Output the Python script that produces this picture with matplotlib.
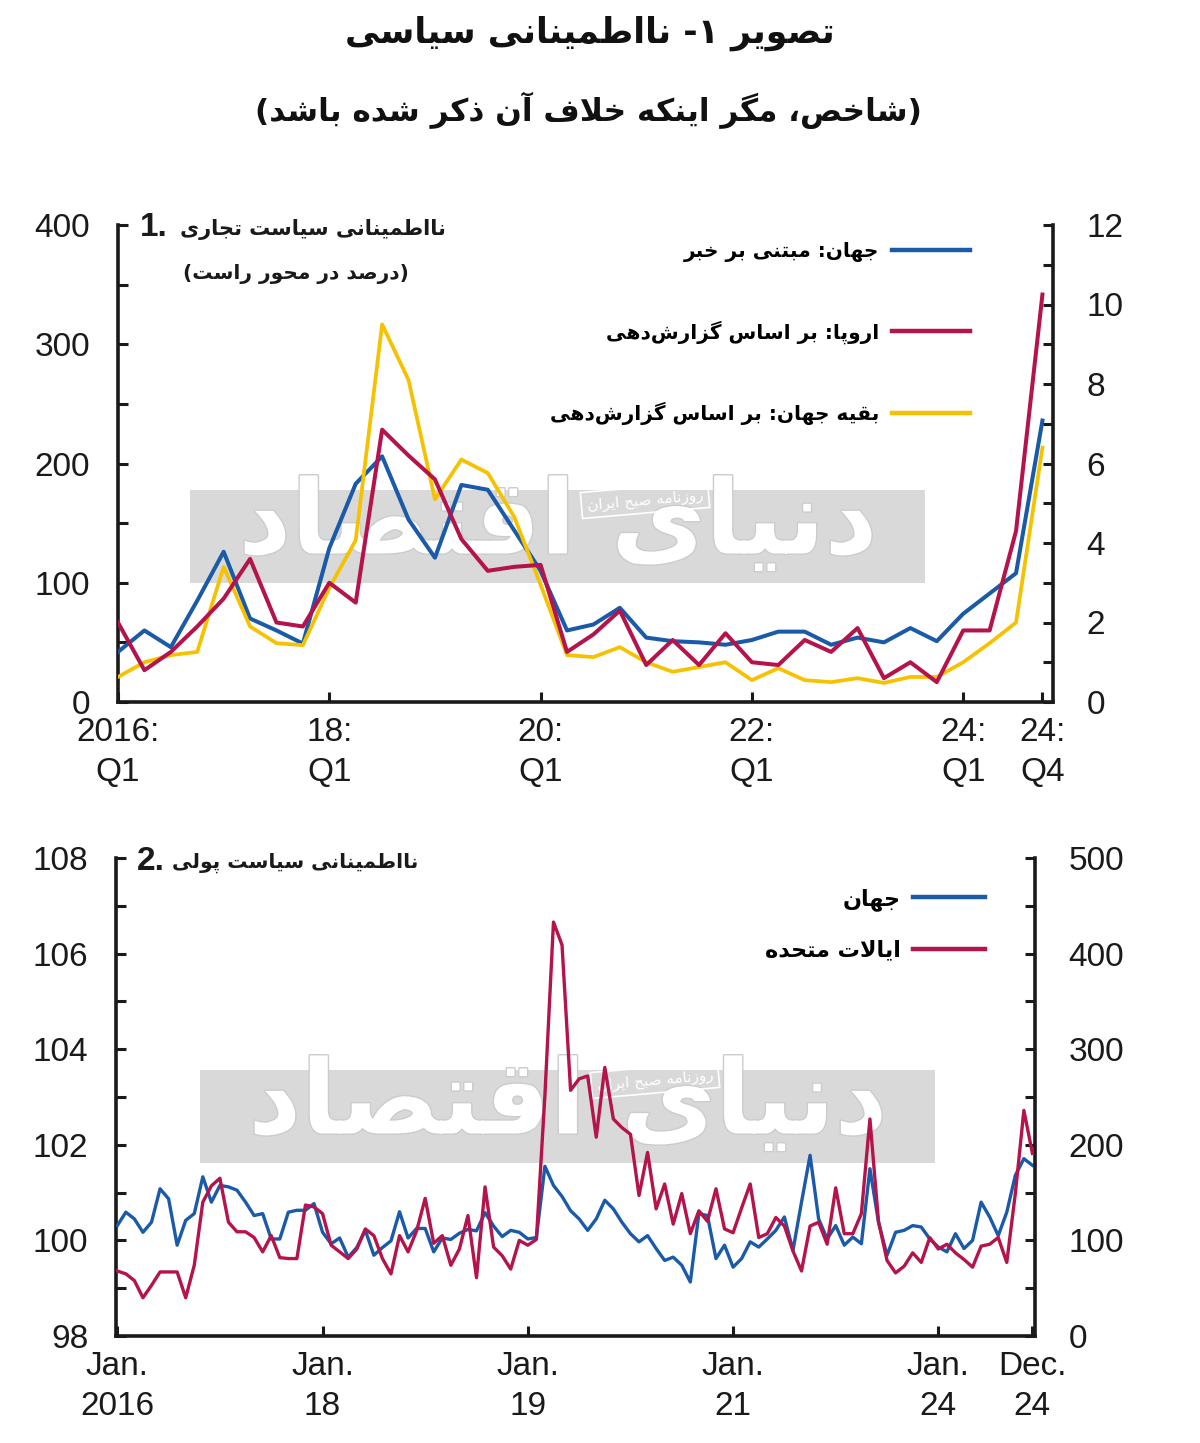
import matplotlib
matplotlib.use('Agg')
import matplotlib.pyplot as plt
from matplotlib import font_manager
from matplotlib.ticker import MultipleLocator, FixedLocator, FixedFormatter
from matplotlib.patches import Rectangle
from matplotlib.lines import Line2D
import matplotlib.patheffects as pe
import numpy as np

# ---------------- data ----------------
# Panel 1: quarterly 2016Q1 .. 2024Q4
trade_quarter_ticks = [0, 8, 16, 24, 32, 35]
trade_tick_labels = ["2016:\nQ1", "18:\nQ1", "20:\nQ1", "22:\nQ1", "24:\nQ1", "24:\nQ4"]
world_news = [42, 60, 46, 85, 126, 70, 60, 49, 129, 183, 206, 153, 121, 182, 178, 144,
              110, 60, 65, 79, 54, 51, 50, 48, 52, 59, 59, 48, 54, 50, 62, 51,
              74, 91, 108, 236]
europe_reporting = [2.0, 0.8, 1.26, 1.9, 2.6, 3.6, 2.0, 1.9, 3.0, 2.5, 6.85, 6.2, 5.6, 4.1, 3.3, 3.4,
                    3.45, 1.26, 1.7, 2.3, 0.93, 1.56, 0.93, 1.73, 1.0, 0.93, 1.56, 1.26, 1.86, 0.6, 1.0, 0.5,
                    1.8, 1.8, 4.3, 10.25]
row_reporting = [0.63, 1.0, 1.18, 1.26, 3.4, 1.9, 1.48, 1.43, 2.87, 4.07, 9.5, 8.1, 5.1, 6.1, 5.76, 4.66,
                 2.95, 1.18, 1.13, 1.38, 1.0, 0.76, 0.88, 1.0, 0.55, 0.85, 0.55, 0.5, 0.6, 0.48, 0.63, 0.63,
                 1.0, 1.48, 2.0, 6.4]

# Panel 2: monthly Jan 2016 .. Dec 2024
mp_month_ticks = [0, 24, 48, 72, 96, 107]
mp_tick_labels = ["Jan.\n2016", "Jan.\n18", "Jan.\n19", "Jan.\n21", "Jan.\n24", "Dec.\n24"]
world_mpu = [100.31, 100.59, 100.45, 100.17, 100.38, 101.08, 100.87, 99.90, 100.42, 100.56, 101.33, 100.80,
             101.15, 101.12, 101.05, 100.80, 100.52, 100.56, 100.03, 100.03, 100.59, 100.63, 100.63, 100.77,
             100.17, 99.93, 100.05, 99.65, 99.85, 100.21, 99.69, 99.85, 99.99, 100.60, 100.05, 100.25,
             100.25, 99.76, 100.05, 100.02, 100.15, 100.23, 100.20, 100.58, 100.30, 100.08, 100.21, 100.17,
             100.03, 100.06, 101.55, 101.15, 100.92, 100.62, 100.45, 100.21, 100.45, 100.84, 100.66, 100.38,
             100.14, 99.97, 100.10, 99.83, 99.58, 99.65, 99.48, 99.13, 100.56, 100.52, 99.62, 99.90,
             99.44, 99.62, 99.97, 99.86, 100.03, 100.21, 100.49, 99.79, 100.80, 101.78, 100.45, 100.03,
             100.31, 99.90, 100.07, 99.93, 101.50, 100.38, 99.69, 100.17, 100.21, 100.31, 100.28, 100.03,
             99.86, 99.76, 100.14, 99.83, 100.00, 100.80, 100.49, 100.10, 100.59, 101.36, 101.71, 101.57]
us_mpu = [68, 65, 58, 40, 53, 67, 67, 67, 40, 74, 140, 157,
          165, 119, 109, 109, 103, 88, 105, 82, 81, 81, 137, 135,
          128, 95, 88, 81, 91, 112, 105, 81, 65, 105, 88, 110,
          144, 97, 105, 74, 91, 126, 61, 156, 93, 84, 70, 100,
          95, 101, 252, 433, 409, 257, 269, 272, 208, 281, 227, 218,
          211, 147, 192, 133, 159, 117, 149, 107, 131, 120, 154, 112,
          108, 134, 159, 103, 107, 124, 115, 89, 68, 115, 119, 96,
          155, 107, 107, 128, 227, 120, 79, 66, 73, 87, 77, 103,
          91, 96, 87, 80, 72, 94, 96, 103, 77, 149, 236, 191]

# ---------------- texts ----------------
title_text = "تصویر ۱- نااطمینانی سیاسی"
subtitle_text = "(شاخص، مگر اینکه خلاف آن ذکر شده باشد)"
p1_title = "نااطمینانی سیاست تجاری"
p1_sub = "(درصد در محور راست)"
p1_labels = ["جهان: مبتنی بر خبر", "اروپا: بر اساس گزارش\u200cدهی", "بقیه جهان: بر اساس گزارش\u200cدهی"]
p2_title = "نااطمینانی سیاست پولی"
p2_labels = ["جهان", "ایالات متحده"]
wm_big = "دنیای اقتصاد"
wm_small = "روزنامه صبح ایران"

# ---------------- minimal Persian shaping ----------------
FORMS = {
    '\u0627': ('\uFE8D', '\uFE8E', None, None),
    '\u0622': ('\uFE81', '\uFE82', None, None),
    '\u0628': ('\uFE8F', '\uFE90', '\uFE91', '\uFE92'),
    '\u067E': ('\uFB56', '\uFB57', '\uFB58', '\uFB59'),
    '\u062A': ('\uFE95', '\uFE96', '\uFE97', '\uFE98'),
    '\u062C': ('\uFE9D', '\uFE9E', '\uFE9F', '\uFEA0'),
    '\u062D': ('\uFEA1', '\uFEA2', '\uFEA3', '\uFEA4'),
    '\u062E': ('\uFEA5', '\uFEA6', '\uFEA7', '\uFEA8'),
    '\u062F': ('\uFEA9', '\uFEAA', None, None),
    '\u0630': ('\uFEAB', '\uFEAC', None, None),
    '\u0631': ('\uFEAD', '\uFEAE', None, None),
    '\u0632': ('\uFEAF', '\uFEB0', None, None),
    '\u0633': ('\uFEB1', '\uFEB2', '\uFEB3', '\uFEB4'),
    '\u0634': ('\uFEB5', '\uFEB6', '\uFEB7', '\uFEB8'),
    '\u0635': ('\uFEB9', '\uFEBA', '\uFEBB', '\uFEBC'),
    '\u0637': ('\uFEC1', '\uFEC2', '\uFEC3', '\uFEC4'),
    '\u0641': ('\uFED1', '\uFED2', '\uFED3', '\uFED4'),
    '\u0642': ('\uFED5', '\uFED6', '\uFED7', '\uFED8'),
    '\u06A9': ('\uFB8E', '\uFB8F', '\uFB90', '\uFB91'),
    '\u06AF': ('\uFB92', '\uFB93', '\uFB94', '\uFB95'),
    '\u0644': ('\uFEDD', '\uFEDE', '\uFEDF', '\uFEE0'),
    '\u0645': ('\uFEE1', '\uFEE2', '\uFEE3', '\uFEE4'),
    '\u0646': ('\uFEE5', '\uFEE6', '\uFEE7', '\uFEE8'),
    '\u0648': ('\uFEED', '\uFEEE', None, None),
    '\u0647': ('\uFEE9', '\uFEEA', '\uFEEB', '\uFEEC'),
    '\u06CC': ('\uFBFC', '\uFBFD', '\uFBFE', '\uFBFF'),
    '\u064A': ('\uFEF1', '\uFEF2', '\uFEF3', '\uFEF4'),
}
LAMALEF = {'\u0627': ('\uFEFB', '\uFEFC'), '\u0622': ('\uFEF5', '\uFEF6')}


def _joins_next(c):
    return c in FORMS and FORMS[c][2] is not None


def rtl(s):
    ch = list(s)
    n = len(ch)
    res = []
    i = 0
    while i < n:
        c = ch[i]
        if c not in FORMS:
            if c != '\u200c':
                res.append(c)
            i += 1
            continue
        prev = ch[i - 1] if i > 0 else None
        jp = prev is not None and _joins_next(prev)
        if c == '\u0644' and i + 1 < n and ch[i + 1] in LAMALEF:
            lig = LAMALEF[ch[i + 1]]
            res.append(lig[1] if jp else lig[0])
            i += 2
            continue
        nxt = ch[i + 1] if i + 1 < n else None
        jn = _joins_next(c) and nxt is not None and nxt in FORMS
        iso, fin, ini, med = FORMS[c]
        if jp and jn:
            g = med
        elif jp:
            g = fin
        elif jn:
            g = ini
        else:
            g = iso
        res.append(g)
        i += 1
    mirror = {'(': ')', ')': '('}
    return ''.join(mirror.get(c, c) for c in reversed(res))


def pick_font(names):
    for n in names:
        try:
            font_manager.findfont(n, fallback_to_default=False)
            return n
        except Exception:
            pass
    return 'DejaVu Sans'


NUM = pick_font(['Liberation Sans Narrow', 'Liberation Sans', 'Arial'])
FA = ['DejaVu Sans']

BLUE = '#1b5aa8'
RED = '#b5134c'
YELLOW = '#f6c200'
GRAY = '#d9d9d9'
INK = '#1a1a1a'

W, H = 1200, 1443
fig = plt.figure(figsize=(W / 100, H / 100), dpi=100)
fig.patch.set_facecolor('white')


def fx(x):
    return x / W


def fy(y):
    return 1 - y / H


def style_axes(ax, ax2, xlim, yl, yr, xticks, xlabels, lmaj, lmin, rmaj, rmin):
    ax.set_xlim(*xlim)
    ax.set_ylim(*yl)
    ax2.set_ylim(*yr)
    for a in (ax, ax2):
        a.spines['top'].set_visible(False)
        a.patch.set_visible(False)
    ax.spines['right'].set_visible(False)
    ax2.spines['left'].set_visible(False)
    ax2.spines['bottom'].set_visible(False)
    for sp in ('left', 'bottom'):
        ax.spines[sp].set_linewidth(2.6)
        ax.spines[sp].set_color(INK)
    ax2.spines['right'].set_linewidth(2.6)
    ax2.spines['right'].set_color(INK)
    ax.yaxis.set_major_locator(MultipleLocator(lmaj))
    ax.yaxis.set_minor_locator(MultipleLocator(lmin))
    ax2.yaxis.set_major_locator(MultipleLocator(rmaj))
    ax2.yaxis.set_minor_locator(MultipleLocator(rmin))
    ax.yaxis.set_major_formatter('{x:.0f}')
    ax2.yaxis.set_major_formatter('{x:.0f}')
    ax.xaxis.set_major_locator(FixedLocator(xticks))
    ax.xaxis.set_major_formatter(FixedFormatter(xlabels))
    ax.tick_params(axis='y', which='both', direction='in', length=7, width=2.2, color=INK,
                   labelsize=24, pad=20)
    ax2.tick_params(axis='y', which='both', direction='in', length=7, width=2.2, color=INK,
                    labelsize=24, pad=24)
    ax.tick_params(axis='x', which='both', direction='in', length=7, width=2.2, color=INK,
                   labelsize=24, pad=11)
    for lab in ax.get_yticklabels() + ax2.get_yticklabels() + ax.get_xticklabels():
        lab.set_fontfamily(NUM)
        lab.set_color(INK)
    for lab in ax.get_xticklabels():
        lab.set_multialignment('center')
        lab.set_linespacing(1.35)


def watermark(ax, x0, y0, x1, y1, cx, cy, sx, sy):
    ax.add_patch(Rectangle((fx(x0), fy(y1)), fx(x1) - fx(x0), fy(y0) - fy(y1),
                           transform=fig.transFigure, facecolor=GRAY, edgecolor='none', zorder=0.5))
    ax.text(fx(cx), fy(cy), rtl(wm_big), transform=fig.transFigure, family=FA, fontsize=74,
            fontweight='bold', color='white', ha='center', va='center', zorder=0.6,
            path_effects=[pe.withStroke(linewidth=2.0, foreground='#cccccc')])
    ax.text(fx(sx), fy(sy), rtl(wm_small), transform=fig.transFigure, family=FA, fontsize=11,
            color='white', ha='center', va='center', rotation=5, zorder=0.7,
            bbox=dict(facecolor='none', edgecolor='white', linewidth=1.2, pad=4))


# ---------------- panel 1 ----------------
ax1 = fig.add_axes([fx(118), fy(702), fx(1053) - fx(118), fy(225) - fy(702)])
ax1b = ax1.twinx()
q = np.arange(len(world_news))
style_axes(ax1, ax1b, (0, 35.4), (0, 400), (0, 12), trade_quarter_ticks, trade_tick_labels,
           100, 50, 2, 1)
watermark(ax1, 190, 490, 925, 583, 558, 525, 645, 500)
ax1b.plot(q, row_reporting, color=YELLOW, lw=2.7, zorder=3, solid_joinstyle='round')
ax1.plot(q, world_news, color=BLUE, lw=2.9, zorder=3, solid_joinstyle='round')
ax1b.plot(q, europe_reporting, color=RED, lw=2.9, zorder=4, solid_joinstyle='round')
h1 = [Line2D([], [], color=c, lw=3.2) for c in (BLUE, RED, YELLOW)]
ax1b.legend(h1, [rtl(t) for t in p1_labels], loc='upper right',
            bbox_to_anchor=(fx(970), fy(242)), bbox_transform=fig.transFigure,
            frameon=False, markerfirst=False, handlelength=3.85, handletextpad=0.65,
            labelspacing=2.88, borderpad=0, borderaxespad=0,
            prop=dict(family=FA, size=14.5, weight='bold'))

fig.text(fx(140), fy(228), "1.", family=NUM, fontsize=24, fontweight='bold', ha='left', va='center',
         color=INK)
fig.text(fx(180), fy(230), rtl(p1_title), family=FA, fontsize=15, fontweight='bold', ha='left',
         va='center', color=INK)
fig.text(fx(183), fy(274), rtl(p1_sub), family=FA, fontsize=14.5, fontweight='bold', ha='left',
         va='center', color=INK)

# ---------------- panel 2 ----------------
ax2 = fig.add_axes([fx(116), fy(1336), fx(1035) - fx(116), fy(858) - fy(1336)])
ax2b = ax2.twinx()
m = np.arange(len(world_mpu))
style_axes(ax2, ax2b, (-0.15, 107.3), (98, 108), (0, 500), mp_month_ticks, mp_tick_labels,
           2, 1, 100, 50)
watermark(ax2, 200, 1070, 935, 1163, 568, 1105, 655, 1080)
ax2.plot(m, world_mpu, color=BLUE, lw=2.4, zorder=3, solid_joinstyle='round')
ax2b.plot(m, us_mpu, color=RED, lw=2.4, zorder=4, solid_joinstyle='round')
h2 = [Line2D([], [], color=c, lw=3.2) for c in (BLUE, RED)]
ax2b.legend(h2, [rtl(t) for t in p2_labels], loc='upper right',
            bbox_to_anchor=(fx(985), fy(888)), bbox_transform=fig.transFigure,
            frameon=False, markerfirst=False, handlelength=3.25, handletextpad=0.55,
            labelspacing=1.32, borderpad=0, borderaxespad=0,
            prop=dict(family=FA, size=16, weight='bold'))

fig.text(fx(137), fy(862), "2.", family=NUM, fontsize=24, fontweight='bold', ha='left', va='center',
         color=INK)
fig.text(fx(172), fy(863), rtl(p2_title), family=FA, fontsize=14.5, fontweight='bold', ha='left',
         va='center', color=INK)

# ---------------- titles ----------------
fig.text(fx(590), fy(33), rtl(title_text), family=FA, fontsize=25, fontweight='bold', ha='center',
         va='center', color='#111111')
fig.text(fx(588), fy(110), rtl(subtitle_text), family=FA, fontsize=22.5, fontweight='bold', ha='center',
         va='center', color='#111111')

fig.savefig('out.png', dpi=100)
